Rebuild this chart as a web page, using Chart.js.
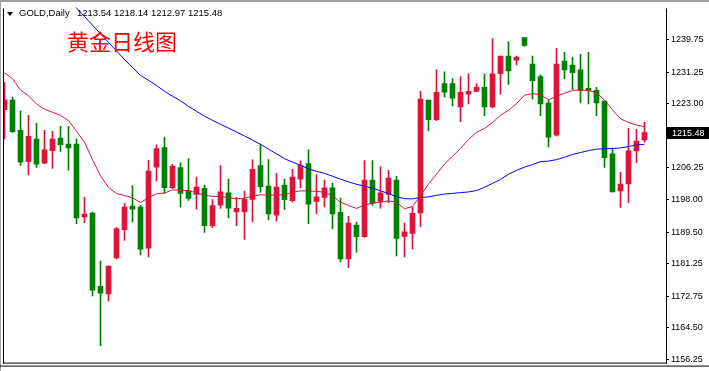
<!DOCTYPE html>
<html>
<head>
<meta charset="utf-8">
<script src="https://cdn.jsdelivr.net/npm/chart.js@4.4.0/dist/chart.umd.min.js"></script>
<style>
  html, body { margin: 0; padding: 0; background: #fff; }
  #wrap { position: relative; width: 709px; height: 371px; overflow: hidden; }
  #chart { position: absolute; left: 0; top: 0; }
  .hdr { position: absolute; top: 8px; font-family: "Liberation Sans", Arial, sans-serif; font-size: 9.5px; line-height: 10px; color: #000; white-space: nowrap; }
  #tri { position: absolute; left: 7px; top: 12px; width: 0; height: 0; border-left: 3px solid transparent; border-right: 3px solid transparent; border-top: 4px solid #000; }
  #title { position: absolute; left: 67px; top: 29px; font-family: "Noto Sans CJK SC", sans-serif; font-size: 22px; line-height: 22px; color: #ff0000; white-space: nowrap; }
</style>
</head>
<body>
<div id="wrap">
  <canvas id="chart" width="709" height="371"></canvas>
  <div id="tri"></div>
  <div class="hdr" style="left:19px">GOLD,Daily</div>
  <div class="hdr" style="left:77px">1213.54 1218.14 1212.97 1215.48</div>
  <div id="title">黄金日线图</div>
</div>
<script>
// daily OHLC, oldest first
const opens = [1221.48,1223.95,1216.06,1207.90,1213.76,1207.47,1210.78,1214.02,1212.49,1212.49,
  1193.46,1194.48,1175.36,1173.33,1182.75,1190.14,1196.26,1196.00,1185.30,1206.45,
  1211.55,1201.10,1206.37,1200.26,1199.32,1200.95,1191.09,1196.51,1199.75,1194.73,
  1194.73,1198.04,1206.88,1201.53,1193.89,1201.79,1197.71,1203.32,1207.39,1197.53,
  1198.55,1201.02,1194.65,1182.50,1191.34,1188.28,1203.06,1197.53,1199.32,1203.06,
  1188.36,1189.12,1194.48,1223.95,1218.86,1228.29,1228.29,1222.17,1225.48,1226.25,
  1227.27,1222.17,1230.83,1235.42,1234.40,1240.26,1233.38,1230.07,1223.19,1214.78,
  1234.15,1233.13,1231.85,1227.01,1226.50,1223.70,1209.94,1200.26,1202.04,1210.71,
  1213.54];
const highs = [1228.54,1224.72,1221.15,1219.95,1217.92,1216.06,1215.80,1217.08,1217.08,1213.84,
  1198.55,1194.73,1182.00,1180.64,1190.65,1197.02,1201.61,1196.51,1208.23,1212.31,
  1214.27,1207.21,1207.65,1208.67,1203.83,1201.79,1197.97,1206.88,1203.32,1198.55,
  1200.18,1208.34,1212.49,1208.41,1204.85,1203.32,1205.86,1208.08,1210.96,1204.51,
  1203.06,1202.30,1198.40,1193.63,1192.10,1208.16,1208.16,1206.63,1205.61,1204.08,
  1191.85,1195.93,1226.25,1223.95,1231.85,1231.34,1229.56,1230.07,1230.83,1228.29,
  1230.83,1240.01,1235.42,1239.24,1235.42,1240.26,1235.42,1230.58,1223.95,1237.46,
  1236.44,1235.17,1235.93,1236.44,1227.27,1223.70,1211.47,1205.10,1216.57,1216.31,
  1218.14];
const lows = [1213.84,1215.55,1206.88,1204.41,1206.37,1207.39,1206.12,1210.53,1205.69,1191.67,
  1191.93,1172.82,1159.82,1171.54,1182.50,1187.34,1192.18,1183.52,1183.01,1202.88,
  1199.57,1200.84,1196.00,1197.79,1195.49,1189.38,1190.65,1195.67,1193.20,1191.16,
  1187.59,1192.18,1199.83,1192.69,1192.44,1195.42,1197.28,1201.02,1191.67,1194.22,
  1196.10,1190.40,1181.74,1180.20,1184.28,1188.10,1196.44,1195.75,1197.20,1183.26,
  1183.01,1185.05,1190.91,1215.88,1218.60,1224.72,1222.43,1218.35,1222.94,1226.25,
  1219.88,1221.92,1225.48,1228.03,1233.13,1237.97,1224.21,1219.88,1211.72,1214.53,
  1229.56,1226.76,1223.19,1222.94,1219.88,1206.37,1200.00,1195.93,1197.20,1207.65,
  1212.97];
const closes = [1224.03,1215.72,1207.72,1214.53,1207.21,1210.96,1213.76,1212.31,1211.47,1193.20,
  1194.22,1174.34,1173.58,1180.64,1190.40,1196.00,1195.49,1185.05,1205.43,1211.29,
  1201.10,1206.70,1199.57,1198.30,1201.28,1191.16,1196.44,1200.00,1195.75,1195.67,
  1198.04,1205.86,1201.35,1194.22,1201.28,1197.97,1203.83,1206.96,1196.77,1198.73,
  1201.02,1194.22,1182.50,1191.85,1188.28,1203.06,1197.02,1199.75,1203.57,1187.85,
  1189.56,1194.40,1224.21,1218.86,1226.00,1226.00,1224.47,1226.00,1226.25,1227.27,
  1222.17,1230.83,1235.42,1231.60,1235.17,1238.22,1229.05,1222.94,1214.27,1233.38,
  1231.85,1231.09,1226.50,1226.50,1223.19,1208.92,1200.00,1202.04,1210.71,1213.25,
  1215.48];

// moving averages (red = fast, blue = slow)
const maFast = [1231.09,1229.56,1226.58,1225.10,1222.94,1221.58,1220.77,1219.95,1218.60,1215.80,
  1212.99,1208.41,1204.21,1201.15,1199.55,1199.04,1198.47,1197.20,1198.47,1199.49,
  1199.70,1200.51,1200.44,1200.31,1199.75,1199.11,1198.81,1198.81,1198.47,1198.17,
  1198.35,1198.86,1199.24,1199.16,1199.16,1199.24,1199.88,1200.26,1200.26,1200.11,
  1199.93,1198.98,1197.28,1196.44,1195.67,1196.56,1197.07,1197.28,1197.63,1197.33,
  1195.60,1196.18,1198.98,1202.04,1204.59,1207.27,1209.30,1211.34,1213.64,1215.55,
  1216.57,1218.09,1220.00,1221.28,1223.06,1225.23,1225.66,1225.35,1224.08,1224.97,
  1225.74,1226.50,1226.58,1226.50,1225.87,1223.95,1221.41,1219.11,1218.09,1217.46,
  1217.00];
const maSlow = [null,null,null,null,null,null,null,null,1250.25,1248.01,
  1245.77,1243.52,1241.28,1239.04,1236.80,1234.53,1232.49,1230.40,1229.13,1227.78,
  1226.25,1224.97,1223.78,1222.30,1221.03,1219.75,1218.68,1217.66,1216.64,1215.62,
  1214.60,1213.51,1212.41,1211.14,1209.94,1208.67,1207.77,1206.96,1205.99,1205.35,
  1204.84,1204.08,1203.32,1202.60,1201.99,1201.48,1200.97,1200.26,1199.57,1198.73,
  1198.22,1198.17,1198.55,1198.68,1199.11,1199.42,1199.60,1199.80,1199.98,1200.34,
  1201.20,1202.22,1203.24,1204.59,1205.61,1206.45,1207.14,1207.90,1208.03,1208.41,
  1209.02,1209.76,1210.27,1210.76,1211.14,1211.29,1211.32,1211.47,1211.83,1212.23,
  1212.41];

const priceTicks = [1156.25,1164.50,1172.75,1181.25,1189.50,1198.00,1206.25,1214.75,1223.00,1231.25,1239.75];

const upColor = '#dc143c';
const downColor = '#008000';
const idx = opens.map((_, i) => i);
const candleColors = idx.map(i => closes[i] >= opens[i] ? upColor : downColor);

// frame lines + last price box, drawn over the chart like the terminal does
const framePlugin = {
  id: 'frame',
  afterDraw(chart) {
    const c = chart.ctx, a = chart.chartArea, W = chart.width;
    c.save();
    c.fillStyle = '#a0a0a0';
    c.fillRect(0, 0, W, 2);
    c.fillRect(0, 0, 1, chart.height);
    c.strokeStyle = '#000';
    c.lineWidth = 1;
    c.beginPath();
    c.moveTo(a.left + 0.5, a.top + 1); c.lineTo(a.left + 0.5, a.bottom);
    c.moveTo(a.right + 0.5, a.top + 1); c.lineTo(a.right + 0.5, a.bottom);
    c.moveTo(a.left, a.bottom - 0.5); c.lineTo(a.right + 1, a.bottom - 0.5);
    c.moveTo(0, a.bottom + 2.5); c.lineTo(W, a.bottom + 2.5);
    c.stroke();

    const last = closes[closes.length - 1];
    const py = Math.round(chart.scales.y.getPixelForValue(last));
    c.fillStyle = '#000';
    c.fillRect(a.right + 1, py - 6, W - a.right - 1, 12);
    c.fillStyle = '#fff';
    c.font = '9px "Liberation Sans", Arial, sans-serif';
    c.textBaseline = 'middle';
    c.fillText(last.toFixed(2), a.right + 6, py + 0.5);
    c.restore();
  }
};

new Chart(document.getElementById('chart'), {
  type: 'bar',
  data: {
    datasets: [
      {
        type: 'line', order: 0,
        data: idx.map(i => ({ x: i, y: maSlow[i] })),
        borderColor: '#0000ff', borderWidth: 1, pointRadius: 0, tension: 0, fill: false
      },
      {
        type: 'line', order: 0,
        data: idx.map(i => ({ x: i, y: maFast[i] })),
        borderColor: '#dc143c', borderWidth: 1, pointRadius: 0, tension: 0, fill: false
      },
      {
        order: 2,
        data: idx.map(i => ({ x: i, y: [lows[i], highs[i]] })),
        backgroundColor: candleColors, barThickness: 1, grouped: false, borderSkipped: false
      },
      {
        order: 1,
        data: idx.map(i => ({ x: i, y: [opens[i], closes[i]] })),
        backgroundColor: candleColors, barThickness: 5, minBarLength: 1, grouped: false, borderSkipped: false
      }
    ]
  },
  options: {
    responsive: false,
    animation: false,
    devicePixelRatio: 1,
    layout: { padding: { left: 3, top: 2, right: 0, bottom: 4 } },
    plugins: { legend: { display: false }, tooltip: { enabled: false } },
    scales: {
      x: { type: 'linear', min: -0.1875, max: 82.6875, offset: false, display: false },
      y: {
        position: 'right',
        min: 1155.16,
        max: 1248.16,
        afterFit: s => { s.width = 43; },
        afterBuildTicks: s => { s.ticks = priceTicks.map(v => ({ value: v })); },
        ticks: {
          autoSkip: false,
          padding: 2,
          color: '#000',
          font: { family: 'Liberation Sans', size: 9 },
          callback: v => Number(v).toFixed(2)
        },
        grid: { drawOnChartArea: false, drawTicks: true, tickLength: 3, color: '#000' },
        border: { display: false }
      }
    }
  },
  plugins: [framePlugin]
});
</script>
</body>
</html>
